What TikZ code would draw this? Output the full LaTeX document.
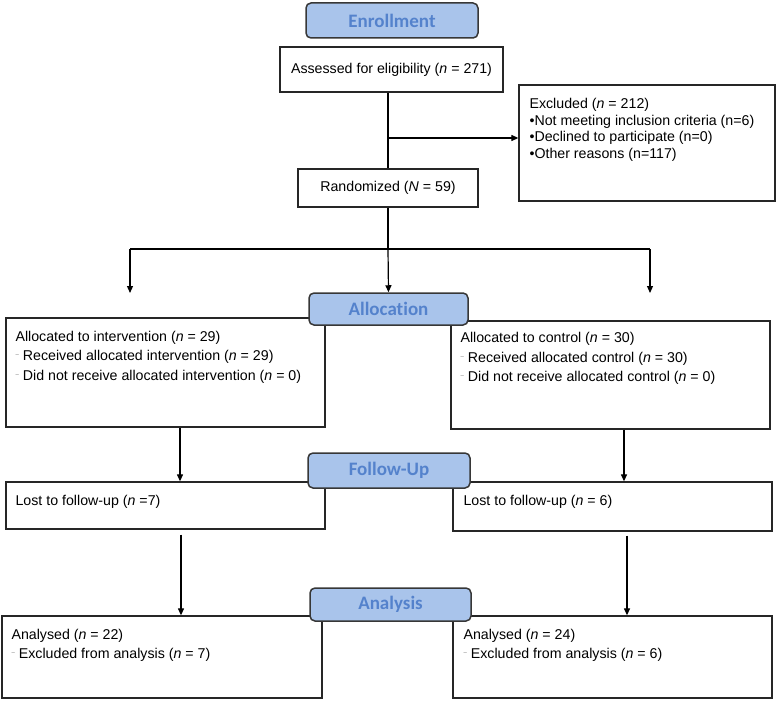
\documentclass[tikz,border=0pt]{standalone}
\usepackage{fontspec}
\setmainfont{Liberation Sans}
\newfontfamily\hdrfont[Ligatures=NoCommon]{Carlito}
\usetikzlibrary{arrows.meta,calc}

\definecolor{hdrfill}{RGB}{169,196,235}
\definecolor{hdrtext}{RGB}{84,130,204}
\definecolor{hdrline}{RGB}{55,55,55}
\definecolor{dashgray}{RGB}{110,110,110}

\newcommand{\subdash}{{\color{dashgray}\raisebox{4pt}{\fontsize{6}{6}\selectfont --}}\hspace{4pt}}

\tikzset{
  box/.style={draw=black!85, line width=1.3pt, inner sep=0pt,
    font=\fontsize{14.2}{19.5}\selectfont},
  hdr/.style={draw=hdrline, line width=1.5pt, fill=hdrfill, rounded corners=5pt,
    text=hdrtext, inner sep=0pt, font=\hdrfont\bfseries\fontsize{19}{19}\selectfont},
  txt/.style={inner sep=0pt, align=left, anchor=north west,
    font=\fontsize{14.2}{19.5}\selectfont},
  line/.style={line width=1.2pt},
  arr/.style={line width=1.2pt, -{Triangle[length=7pt,width=6pt]}},
}

\begin{document}
\begin{tikzpicture}[x=1pt,y=-1pt]

  \useasboundingbox (0,0) rectangle (776,701);

  % Enrollment
  \node[box, minimum width=223pt, minimum height=45pt] (assess) at (391.5,69.5)
    {Assessed for eligibility (\textit{n} = 271)};
  \node[box, minimum width=256pt, minimum height=116pt] (excl) at (647,143) {};
  \node[txt, font=\fontsize{14.2}{16.7}\selectfont] (exclT)
    at ([shift={(11pt,-13.5pt)}]excl.north west)
    {Excluded (\textit{n} = 212)\\
     •Not meeting inclusion criteria (n=6)\\
     •Declined to participate (n=0)\\
     •Other reasons (n=117)};
  \node[box, minimum width=180pt, minimum height=38pt] (rand) at (388,188)
    {Randomized (\textit{N} = 59)};

  % Split to excluded
  \coordinate (split) at (388,138);
  \draw[line] (assess.south -| rand.north) -- (rand.north);
  \draw[arr] (split) -- (split -| excl.west);

  % Allocation boxes
  \node[box, minimum width=319pt, minimum height=109pt] (allocL) at (165.5,372.5) {};
  \node[txt] (allocLT) at ([shift={(10pt,-13.5pt)}]allocL.north west)
    {Allocated to intervention (\textit{n} = 29)\\
     \subdash Received allocated intervention (\textit{n} = 29)\\
     \subdash Did not receive allocated intervention (\textit{n} = 0)};
  \node[box, minimum width=319pt, minimum height=108pt] (allocR) at (610.5,375) {};
  \node[txt] (allocRT) at ([shift={(10pt,-12pt)}]allocR.north west)
    {Allocated to control (\textit{n} = 30)\\
     \subdash Received allocated control (\textit{n} = 30)\\
     \subdash Did not receive allocated control (\textit{n} = 0)};

  % Fork below randomized
  \coordinate (fork)  at (388,249);
  \coordinate (forkL) at (130,249);
  \coordinate (forkR) at (650,249);
  \coordinate (tipL)  at (130,293);
  \coordinate (tipR)  at (650,293);
  \draw[line] (rand.south) -- (fork);
  \draw[line] (forkL) -- (forkR);
  \draw[arr] (forkL) -- (tipL);
  \draw[arr] (forkR) -- (tipR);

  % Follow-up boxes
  \node[box, minimum width=319pt, minimum height=47pt] (followL) at (165.5,505.5) {};
  \node[txt] (followLT) at ([shift={(10pt,-13.5pt)}]followL.north west)
    {Lost to follow-up (\textit{n} =7)};
  \node[box, minimum width=319pt, minimum height=49pt] (followR) at (612.5,506.5) {};
  \node[txt] (followRT) at ([shift={(11pt,-13.5pt)}]followR.north west)
    {Lost to follow-up (\textit{n} = 6)};

  \coordinate (downL1) at ([xshift=14.5pt]allocL.south);
  \coordinate (downR1) at ([xshift=13.5pt]allocR.south);
  \draw[arr] (downL1) -- (downL1 |- followL.north);
  \draw[arr] (downR1) -- (downR1 |- followR.north);

  % Analysis boxes
  \node[box, minimum width=320pt, minimum height=82pt] (anaL) at (162,657) {};
  \node[txt, font=\fontsize{14.2}{19}\selectfont] (anaLT)
    at ([shift={(10pt,-13.5pt)}]anaL.north west)
    {Analysed (\textit{n} = 22)\\
     \subdash Excluded from analysis (\textit{n} = 7)};
  \node[box, minimum width=319pt, minimum height=82pt] (anaR) at (612.5,657) {};
  \node[txt, font=\fontsize{14.2}{19}\selectfont] (anaRT)
    at ([shift={(11pt,-13.5pt)}]anaR.north west)
    {Analysed (\textit{n} = 24)\\
     \subdash Excluded from analysis (\textit{n} = 6)};

  \coordinate (downL2) at ([xshift=15.5pt]followL.south);
  \coordinate (downR2) at ([xshift=14.5pt]followR.south);
  \draw[arr, shorten <=5pt] (downL2) -- (downL2 |- anaL.north);
  \draw[arr, shorten <=4pt] (downR2) -- (downR2 |- anaR.north);

  % Stage headers (on top of the boxes)
  \node[hdr, minimum width=172pt, minimum height=35pt] (enrol) at (392,20.5) {Enrollment};
  \node[hdr, minimum width=159pt, minimum height=32pt] (alloc) at (388.5,309) {Allocation};
  \node[hdr, minimum width=162pt, minimum height=35pt] (follow) at (389,470.5) {Follow-Up};
  \node[hdr, minimum width=161pt, minimum height=33pt] (ana) at (390.5,604.5) {Analysis};

  \draw[arr] (fork) -- (alloc.north);

\end{tikzpicture}
\end{document}
